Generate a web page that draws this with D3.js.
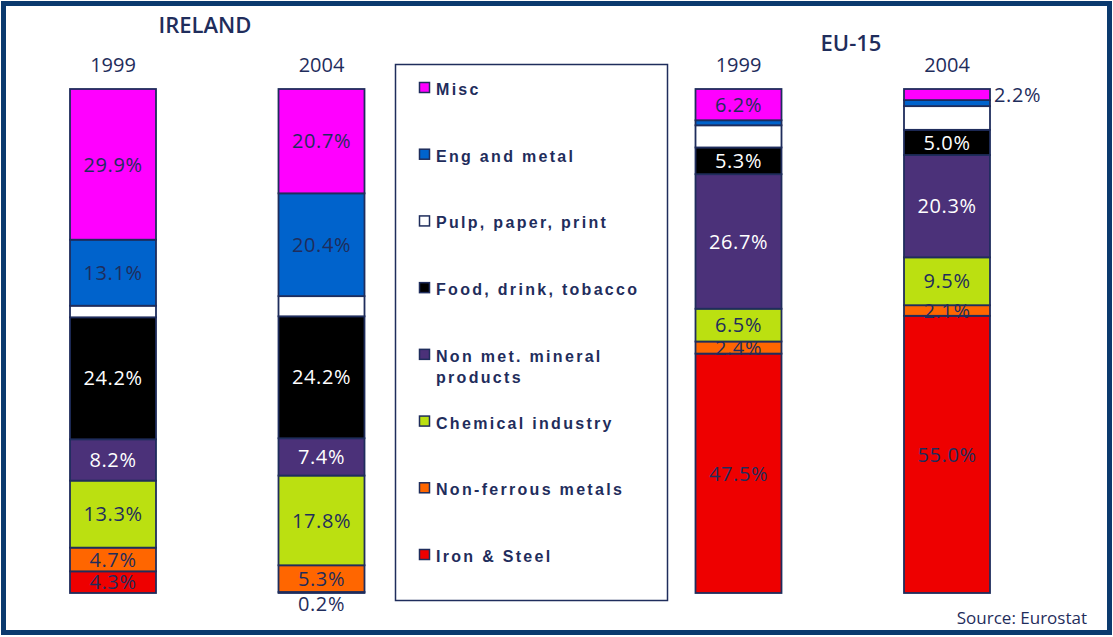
<!DOCTYPE html>
<html>
<head>
<meta charset="utf-8">
<script src="https://cdn.jsdelivr.net/npm/d3@7"></script>
<style>
  body { margin: 0; background: #fff; }
  svg { display: block; }
</style>
</head>
<body>
<svg id="chart" width="1113" height="637"></svg>
<script>
// categories, bottom of the stack first
const categories = ['Iron & Steel', 'Non-ferrous metals', 'Chemical industry',
  'Non met. mineral products', 'Food, drink, tobacco', 'Pulp, paper, print',
  'Eng and metal', 'Misc']
const colors = ['#ee0000', '#ff6600', '#bbe011', '#4b3179', '#000000', '#ffffff', '#0063cc', '#ff00ff']

// columns (one empty slot leaves room for the legend)
const columns = ['IE1999', 'IE2004', 'gap', 'EU1999', 'EU2004']
const years = ['1999', '2004', '', '1999', '2004']

// shares in %, same order as categories
const ie1999 = [4.3, 4.7, 13.3, 8.2, 24.2, 2.3, 13.1, 29.9]
const ie2004 = [0.2, 5.3, 17.8, 7.4, 24.2, 4.0, 20.4, 20.7]
const eu1999 = [47.5, 2.4, 6.5, 26.7, 5.3, 4.4, 1.0, 6.2]
const eu2004 = [55.0, 2.1, 9.5, 20.3, 5.0, 4.7, 1.2, 2.2]

const groups = [
  { title: 'IRELAND', cols: ['IE1999', 'IE2004'] },
  { title: 'EU-15', cols: ['EU1999', 'EU2004'] }
]

const rows = [
  { col: 'IE1999', values: ie1999 },
  { col: 'IE2004', values: ie2004 },
  { col: 'EU1999', values: eu1999 },
  { col: 'EU2004', values: eu2004 }
].map(r => {
  const o = { col: r.col }
  categories.forEach((c, i) => { o[c] = r.values[i] })
  return o
})

const navy = '#1f2d5c'
const svg = d3.select('#chart')

// outer frame
svg.append('rect')
  .attr('x', 3.5).attr('y', 3.5)
  .attr('width', 1106).attr('height', 629)
  .attr('fill', '#fff')
  .attr('stroke', '#0b3a6e')
  .attr('stroke-width', 5)

const x = d3.scalePoint().domain(columns).range([113, 947])
const barW = 86
const y = d3.scaleLinear().domain([0, 100]).range([593, 89])

const series = d3.stack().keys(categories)(rows)

const layer = svg.selectAll('g.layer')
  .data(series)
  .join('g')
  .attr('class', 'layer')
  .attr('fill', (d, i) => colors[i])

layer.selectAll('rect')
  .data(d => d)
  .join('rect')
  .attr('x', d => x(d.data.col) - barW / 2)
  .attr('y', d => y(d[1]))
  .attr('width', barW)
  .attr('height', d => y(d[0]) - y(d[1]))
  .attr('stroke', navy)
  .attr('stroke-width', 1.8)

// value labels
const labelFont = '"Open Sans", sans-serif'
series.forEach((s, si) => {
  const cat = categories[si]
  s.forEach(d => {
    const v = d[1] - d[0]
    if (cat === 'Pulp, paper, print') return
    if (cat === 'Eng and metal' && v < 2) return
    const cx = x(d.data.col)
    const mid = (y(d[0]) + y(d[1])) / 2
    let tx = cx; let ty = mid; let anchor = 'middle'
    let fill = (cat === 'Food, drink, tobacco' || cat === 'Non met. mineral products') ? '#fff' : navy
    if (si === 0 && v < 1) { ty = y(0) + 11; fill = navy }
    if (si === categories.length - 1 && v < 3) { tx = cx + barW / 2 + 4; anchor = 'start'; fill = navy }
    svg.append('text')
      .attr('x', tx)
      .attr('y', ty)
      .attr('dy', '0.36em')
      .attr('text-anchor', anchor)
      .attr('fill', fill)
      .style('font-family', labelFont)
      .style('font-size', '20px')
      .style('letter-spacing', '0.6px')
      .text(v.toFixed(1) + '%')
  })
})

// group titles and years
const titlePos = [{ x: 205, y: 33 }, { x: 851, y: 51 }]
groups.forEach((g, i) => {
  svg.append('text')
    .attr('x', titlePos[i].x)
    .attr('y', titlePos[i].y)
    .attr('text-anchor', 'middle')
    .attr('fill', navy)
    .style('font-family', labelFont)
    .style('font-size', '22px')
    .style('font-weight', 600)
    .text(g.title)
})

svg.selectAll('text.year')
  .data(columns.filter(c => c !== 'gap'))
  .join('text')
  .attr('class', 'year')
  .attr('x', d => x(d))
  .attr('y', 72)
  .attr('text-anchor', 'middle')
  .attr('fill', navy)
  .style('font-family', labelFont)
  .style('font-size', '20px')
  .text(d => years[columns.indexOf(d)])

// legend, top of the stack first
svg.append('rect')
  .attr('x', 395.5).attr('y', 64.5)
  .attr('width', 272).attr('height', 536)
  .attr('fill', '#fff')
  .attr('stroke', navy)
  .attr('stroke-width', 1.5)

const legendItems = categories.map((c, i) => ({ name: c, color: colors[i] })).reverse()
const legendLines = {
  'Non met. mineral products': ['Non met. mineral', 'products']
}
const ly = d3.scalePoint().domain(legendItems.map(d => d.name)).range([95, 562])

const li = svg.selectAll('g.legend')
  .data(legendItems)
  .join('g')
  .attr('class', 'legend')
  .attr('transform', d => `translate(419, ${ly(d.name)})`)

li.append('rect')
  .attr('x', 0.5).attr('y', -12.5)
  .attr('width', 10).attr('height', 10)
  .attr('fill', d => d.color)
  .attr('stroke', navy)
  .attr('stroke-width', 1.5)

li.append('text')
  .attr('x', 17)
  .attr('fill', navy)
  .style('font-family', '"Liberation Sans", Arial, sans-serif')
  .style('font-size', '16px')
  .style('font-weight', 'bold')
  .style('letter-spacing', '2.3px')
  .selectAll('tspan')
  .data(d => legendLines[d.name] || [d.name])
  .join('tspan')
  .attr('x', 17)
  .attr('dy', (d, i) => i ? 21 : 0)
  .text(d => d)

// source
svg.append('text')
  .attr('x', 1087)
  .attr('y', 624)
  .attr('text-anchor', 'end')
  .attr('fill', navy)
  .style('font-family', labelFont)
  .style('font-size', '17px')
  .text('Source: Eurostat')
</script>
</body>
</html>
